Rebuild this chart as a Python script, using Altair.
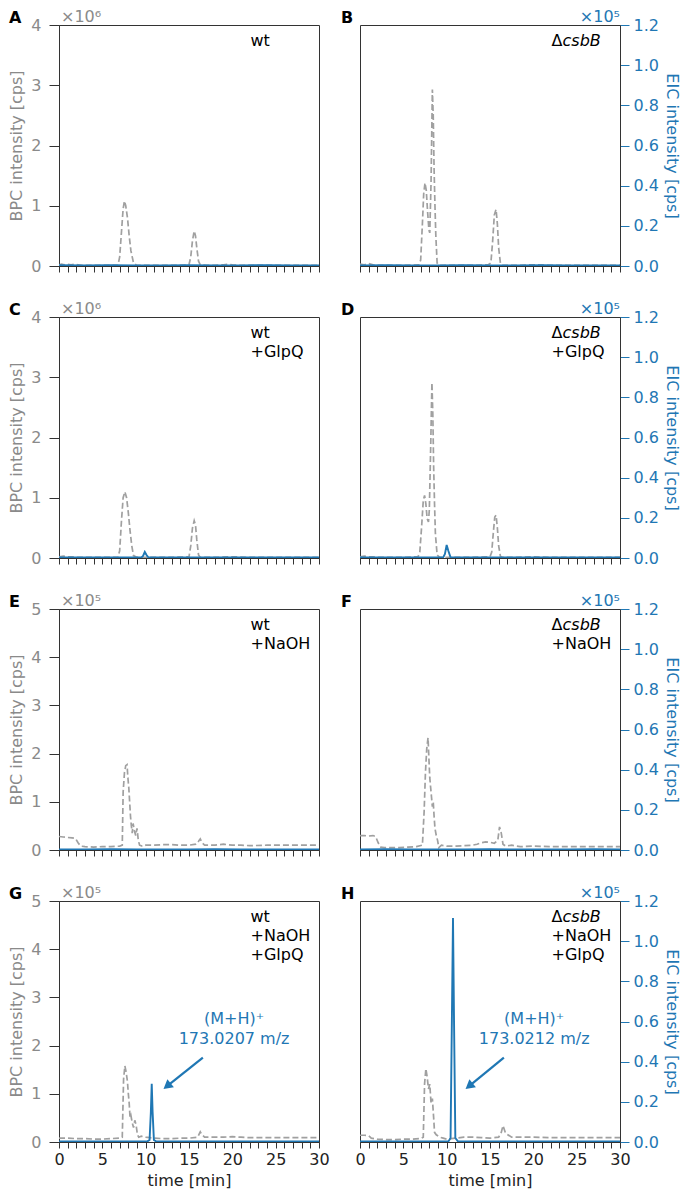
import altair as alt
import pandas as pd

# ---------------- data ----------------
# BPC values in units of the axis multiplier (x10^6 rows 1-2, x10^5 rows 3-4)
# EIC values in units of x10^5
A_bpc_t = [0, 0.3, 0.6, 1.0, 1.4, 1.8, 2.2, 2.6, 3.0, 4, 5, 6, 6.8, 7.0, 7.2, 7.4, 7.55, 7.7, 7.9, 8.1, 8.3, 8.6, 9.0, 10, 11, 12, 13, 14, 15.0, 15.2, 15.4, 15.6, 15.75, 15.9, 16.1, 16.3, 17, 18, 19, 19.5, 20, 21, 22, 24, 26, 28, 30]
A_bpc_v = [0.02, 0.03, 0.02, 0.03, 0.02, 0.03, 0.02, 0.01, 0.01, 0.01, 0.01, 0.01, 0.01, 0.15, 0.55, 0.95, 1.08, 1.0, 0.8, 0.5, 0.25, 0.05, 0.01, 0.01, 0.01, 0.01, 0.01, 0.01, 0.02, 0.15, 0.42, 0.58, 0.5, 0.3, 0.08, 0.02, 0.01, 0.01, 0.02, 0.03, 0.02, 0.01, 0.01, 0.01, 0.01, 0.01, 0.01]
A_eic_t = [0, 3, 6, 9, 12, 15, 18, 21, 24, 27, 30]
A_eic_v = [0.004, 0.003, 0.004, 0.003, 0.003, 0.004, 0.003, 0.003, 0.004, 0.003, 0.003]

B_bpc_t = [0, 0.5, 1.0, 1.5, 2.0, 3, 5, 6.8, 7.0, 7.2, 7.35, 7.5, 7.65, 7.8, 7.95, 8.05, 8.2, 8.35, 8.45, 8.55, 8.65, 8.75, 8.9, 9.2, 11, 13, 14.8, 15.1, 15.3, 15.5, 15.7, 15.85, 16.0, 16.2, 16.4, 18, 20, 22, 25, 28, 30]
B_bpc_v = [0.03, 0.02, 0.04, 0.02, 0.01, 0.01, 0.01, 0.02, 0.1, 0.7, 1.2, 1.38, 1.25, 0.9, 0.6, 0.55, 1.4, 2.93, 2.5, 1.6, 1.0, 0.5, 0.05, 0.01, 0.01, 0.01, 0.02, 0.05, 0.4, 0.85, 0.94, 0.7, 0.3, 0.05, 0.01, 0.01, 0.02, 0.01, 0.01, 0.01, 0.01]
B_eic_t = [0, 3, 6, 9, 12, 15, 18, 21, 24, 27, 30]
B_eic_v = [0.003, 0.004, 0.003, 0.003, 0.004, 0.003, 0.003, 0.004, 0.003, 0.003, 0.003]

C_bpc_t = [0, 0.5, 1, 1.5, 2, 3, 5, 6.8, 7.0, 7.2, 7.4, 7.6, 7.8, 8.0, 8.2, 8.4, 8.6, 9, 11, 13, 15.0, 15.2, 15.4, 15.6, 15.75, 15.9, 16.1, 16.3, 18, 20, 22, 25, 28, 30]
C_bpc_v = [0.02, 0.03, 0.02, 0.02, 0.01, 0.01, 0.01, 0.01, 0.12, 0.6, 1.0, 1.1, 1.0, 0.75, 0.45, 0.2, 0.04, 0.01, 0.01, 0.01, 0.02, 0.2, 0.5, 0.62, 0.55, 0.3, 0.05, 0.01, 0.01, 0.02, 0.01, 0.01, 0.01, 0.01]
C_eic_t = [0, 5, 9.5, 9.7, 9.9, 10.1, 10.3, 12, 20, 30]
C_eic_v = [0.003, 0.003, 0.003, 0.01, 0.03, 0.015, 0.003, 0.003, 0.003, 0.003]

D_bpc_t = [0, 0.5, 1.0, 1.5, 2, 3, 5, 6.7, 6.9, 7.1, 7.3, 7.45, 7.6, 7.75, 7.9, 8.0, 8.15, 8.3, 8.4, 8.5, 8.6, 8.7, 8.9, 9.2, 11, 13, 15.0, 15.2, 15.4, 15.55, 15.7, 15.85, 16.0, 16.2, 16.4, 18, 20, 22, 25, 28, 30]
D_bpc_v = [0.02, 0.03, 0.02, 0.02, 0.01, 0.01, 0.01, 0.02, 0.1, 0.5, 0.95, 1.04, 0.9, 0.65, 0.6, 0.8, 1.8, 2.91, 2.4, 1.5, 0.9, 0.4, 0.05, 0.01, 0.01, 0.01, 0.02, 0.1, 0.45, 0.68, 0.71, 0.5, 0.2, 0.03, 0.01, 0.01, 0.02, 0.01, 0.01, 0.01, 0.01]
D_eic_t = [0, 5, 9.6, 9.8, 10.0, 10.2, 10.45, 12, 20, 30]
D_eic_v = [0.003, 0.003, 0.003, 0.02, 0.065, 0.035, 0.003, 0.003, 0.003, 0.003]

E_bpc_t = [0, 0.5, 1.0, 1.5, 1.9, 2.2, 2.5, 3, 4, 5, 6, 7, 7.3, 7.4, 7.55, 7.7, 7.85, 7.95, 8.05, 8.15, 8.25, 8.35, 8.45, 8.55, 8.7, 8.85, 9.0, 9.15, 9.3, 9.6, 10, 11, 12, 13, 14, 15, 15.8, 16.1, 16.3, 16.5, 16.8, 17.5, 18, 19, 20, 21, 22, 24, 26, 28, 30]
E_bpc_v = [0.28, 0.27, 0.26, 0.25, 0.24, 0.15, 0.08, 0.07, 0.06, 0.07, 0.07, 0.08, 0.1, 1.2, 1.6, 1.75, 1.77, 1.5, 1.3, 1.0, 0.7, 0.5, 0.35, 0.55, 0.4, 0.3, 0.45, 0.2, 0.1, 0.08, 0.1, 0.1, 0.11, 0.11, 0.1, 0.1, 0.12, 0.18, 0.23, 0.15, 0.1, 0.1, 0.1, 0.12, 0.1, 0.1, 0.09, 0.1, 0.1, 0.1, 0.1]
E_eic_t = [0, 3, 6, 9, 12, 15, 18, 21, 24, 27, 30]
E_eic_v = [0.003, 0.003, 0.004, 0.003, 0.003, 0.003, 0.004, 0.003, 0.003, 0.003, 0.003]

F_bpc_t = [0, 0.5, 1.0, 1.5, 1.8, 2.1, 2.4, 2.8, 3.5, 4.5, 5.5, 6.5, 7.2, 7.4, 7.55, 7.7, 7.85, 7.95, 8.05, 8.15, 8.25, 8.35, 8.45, 8.55, 8.65, 8.8, 8.95, 9.1, 9.4, 10, 11, 12, 13, 13.5, 14, 14.5, 15, 15.5, 15.9, 16.1, 16.3, 16.5, 16.8, 17.5, 18.5, 20, 22, 24, 26, 28, 30]
F_bpc_v = [0.3, 0.3, 0.29, 0.3, 0.28, 0.15, 0.06, 0.05, 0.05, 0.05, 0.06, 0.07, 0.1, 0.8, 1.6, 2.1, 2.33, 1.9, 1.5, 1.3, 1.1, 0.9, 1.0, 0.7, 0.45, 0.3, 0.2, 0.05, 0.1, 0.08, 0.08, 0.09, 0.1, 0.12, 0.15, 0.17, 0.16, 0.14, 0.2, 0.48, 0.35, 0.12, 0.08, 0.1, 0.07, 0.08, 0.07, 0.07, 0.07, 0.07, 0.07]
F_eic_t = [0, 3, 6, 9, 12, 15, 18, 21, 24, 27, 30]
F_eic_v = [0.003, 0.004, 0.003, 0.003, 0.003, 0.004, 0.003, 0.003, 0.003, 0.004, 0.003]

G_bpc_t = [0, 1, 2, 3, 4, 5, 6, 7, 7.3, 7.45, 7.6, 7.75, 7.9, 8.0, 8.1, 8.2, 8.3, 8.45, 8.6, 8.75, 8.9, 9.05, 9.2, 9.5, 10, 11, 12, 13, 14, 15, 16, 16.3, 16.5, 16.8, 17.5, 18, 19, 20, 21, 22, 24, 26, 28, 30]
G_bpc_v = [0.08, 0.08, 0.07, 0.07, 0.06, 0.06, 0.07, 0.08, 0.1, 1.3, 1.58, 1.45, 1.25, 1.0, 0.8, 0.5, 0.55, 0.4, 0.3, 0.45, 0.35, 0.15, 0.1, 0.12, 0.1, 0.08, 0.07, 0.07, 0.08, 0.08, 0.1, 0.21, 0.15, 0.1, 0.1, 0.1, 0.1, 0.11, 0.1, 0.09, 0.09, 0.09, 0.09, 0.09]
G_eic_t = [0, 5, 10.2, 10.45, 10.6, 10.7, 10.8, 10.95, 11.2, 15, 20, 30]
G_eic_v = [0.003, 0.003, 0.003, 0.01, 0.15, 0.29, 0.15, 0.01, 0.003, 0.003, 0.003, 0.003]

H_bpc_t = [0, 0.5, 1.0, 1.3, 2, 3, 4, 5, 6, 7, 7.3, 7.45, 7.6, 7.75, 7.9, 8.05, 8.2, 8.35, 8.5, 8.6, 8.8, 9.2, 9.6, 10, 11, 12, 13, 14, 15, 16, 16.3, 16.5, 16.8, 17.5, 19, 20, 22, 24, 26, 28, 30]
H_bpc_v = [0.14, 0.14, 0.13, 0.08, 0.06, 0.05, 0.05, 0.06, 0.06, 0.07, 0.1, 1.2, 1.52, 1.35, 1.1, 1.2, 0.8, 0.9, 0.5, 0.2, 0.15, 0.1, 0.08, 0.06, 0.08, 0.1, 0.1, 0.09, 0.08, 0.1, 0.2, 0.34, 0.18, 0.1, 0.1, 0.1, 0.09, 0.09, 0.09, 0.09, 0.09]
H_eic_t = [0, 5, 10.2, 10.45, 10.6, 10.73, 10.85, 11.0, 11.3, 15, 20, 30]
H_eic_v = [0.003, 0.003, 0.003, 0.02, 0.6, 1.115, 0.6, 0.02, 0.003, 0.003, 0.003, 0.003]

X_TICKS = list(range(0, 31))
EIC_TICKS = [0, 0.2, 0.4, 0.6, 0.8, 1.0, 1.2]

ANN_TEXT_G = ["(M+H)\u207a", "173.0207 m/z"]
ANN_TEXT_H = ["(M+H)\u207a", "173.0212 m/z"]

# ---------------- style ----------------
GREY = "#a0a0a0"
BLUE = "#1f77b4"
AXGREY = "#8a8a8a"
DARK = "#333333"
FONT = "DejaVu Sans"
FS = 16

PW, PH = 260, 241


def make_x(bottom):
    if bottom:
        ax = alt.Axis(values=X_TICKS, tickSize=6, tickColor=DARK, domainColor=DARK, grid=False,
                      labelExpr="datum.value % 5 === 0 ? datum.label : ''",
                      labelFlush=False, labelOverlap=False,
                      labelFontSize=FS, labelColor="#222222", labelPadding=3,
                      title="time [min]", titleFontSize=FS, titleFontWeight="normal",
                      titleColor="#222222", titlePadding=5)
    else:
        ax = alt.Axis(values=X_TICKS, tickSize=6, tickColor=DARK, domainColor=DARK, grid=False,
                      labels=False, title=None)
    return alt.X("t:Q", scale=alt.Scale(domain=[0, 30], nice=False, zero=False), axis=ax)


def panel(letter, side, bpc_t, bpc_v, eic_t, eic_v, bpc_max, exp_txt, lines, delta, bottom, ann=None):
    x = make_x(bottom)
    bpc_df = pd.DataFrame({"t": bpc_t, "bpc": bpc_v})
    eic_df = pd.DataFrame({"t": eic_t, "eic": eic_v})

    if side == "left":
        bpc_axis = alt.Axis(orient="left", values=list(range(bpc_max + 1)), format="d", tickSize=10,
                            tickColor=DARK, domainColor=DARK, labelColor=AXGREY, labelFontSize=FS,
                            labelFlush=False, labelPadding=8, title="BPC intensity [cps]",
                            titleColor=AXGREY, titleFontSize=FS, titleFontWeight="normal",
                            titlePadding=6, grid=False)
        eic_axis = None
    else:
        bpc_axis = None
        eic_axis = alt.Axis(orient="right", values=EIC_TICKS, format=".1f", tickSize=9, tickColor=BLUE,
                            domainColor=DARK, labelColor=BLUE, labelFontSize=FS, labelPadding=4,
                            labelFlush=False, title="EIC intensity [cps]", titleColor=BLUE,
                            titleFontSize=FS, titleFontWeight="normal", titlePadding=5, grid=False)

    bpc = alt.Chart(bpc_df).mark_line(color=GREY, strokeWidth=1.7, strokeDash=[6, 3], clip=True).encode(
        x=x, y=alt.Y("bpc:Q", scale=alt.Scale(domain=[0, bpc_max], nice=False), axis=bpc_axis))
    eic = alt.Chart(eic_df).mark_line(color=BLUE, strokeWidth=1.9, clip=True).encode(
        x=x, y=alt.Y("eic:Q", scale=alt.Scale(domain=[0, 1.2], nice=False), axis=eic_axis))

    layers = [bpc, eic]

    # sample labels
    lab_t = 22.1
    for i, line in enumerate(lines):
        ypix = 21 + 19 * i
        if i == 0 and delta:
            d1 = alt.Chart(pd.DataFrame({"t": [lab_t], "txt": ["\u0394"]})).mark_text(
                align="left", baseline="alphabetic", fontSize=FS, color="black").encode(
                x=x, y=alt.value(ypix), text="txt:N")
            d2 = alt.Chart(pd.DataFrame({"t": [lab_t], "txt": [line]})).mark_text(
                align="left", baseline="alphabetic", fontSize=FS, fontStyle="italic", color="black",
                dx=11).encode(x=x, y=alt.value(ypix), text="txt:N")
            layers += [d1, d2]
        else:
            layers.append(alt.Chart(pd.DataFrame({"t": [lab_t], "txt": [line]})).mark_text(
                align="left", baseline="alphabetic", fontSize=FS, color="black").encode(
                x=x, y=alt.value(ypix), text="txt:N"))

    # panel letter
    layers.append(alt.Chart(pd.DataFrame({"txt": [letter]})).mark_text(
        align="left", baseline="top", fontSize=16, fontWeight="bold", color="black").encode(
        x=alt.value(-50 if side == "left" else -19), y=alt.value(-15), text="txt:N"))
    # multiplier
    layers.append(alt.Chart(pd.DataFrame({"txt": [exp_txt]})).mark_text(
        align="left" if side == "left" else "right", baseline="alphabetic", fontSize=FS,
        color=AXGREY if side == "left" else BLUE).encode(
        x=alt.value(2 if side == "left" else PW), y=alt.value(-3), text="txt:N"))

    if ann is not None:
        tail_t, tail_v, head_t, head_v, txt_t, txt_lines = ann
        ys = alt.Scale(domain=[0, 5], nice=False)
        arrow = alt.Chart(pd.DataFrame({"t": [tail_t], "ay": [tail_v], "t2": [head_t], "ay2": [head_v]})).mark_rule(
            color=BLUE, strokeWidth=2.2).encode(
            x=x, y=alt.Y("ay:Q", scale=ys, axis=None), x2="t2:Q", y2="ay2:Q")
        head = alt.Chart(pd.DataFrame({"t": [head_t], "ay": [head_v]})).mark_point(
            shape="triangle-up", filled=True, size=110, angle=231.5, color=BLUE, opacity=1).encode(
            x=x, y=alt.Y("ay:Q", scale=ys, axis=None))
        t1 = alt.Chart(pd.DataFrame({"t": [txt_t], "ay": [2.55], "txt": [txt_lines[0]]})).mark_text(
            align="center", baseline="middle", fontSize=FS, color=BLUE).encode(
            x=x, y=alt.Y("ay:Q", scale=ys, axis=None), text="txt:N")
        t2 = alt.Chart(pd.DataFrame({"t": [txt_t], "ay": [2.13], "txt": [txt_lines[1]]})).mark_text(
            align="center", baseline="middle", fontSize=FS, color=BLUE).encode(
            x=x, y=alt.Y("ay:Q", scale=ys, axis=None), text="txt:N")
        layers += [arrow, head, t1, t2]

    return alt.layer(*layers).resolve_scale(y="independent").properties(width=PW, height=PH)


pA = panel("A", "left", A_bpc_t, A_bpc_v, A_eic_t, A_eic_v, 4, "\u00d710\u2076", ["wt"], False, False)
pB = panel("B", "right", B_bpc_t, B_bpc_v, B_eic_t, B_eic_v, 4, "\u00d710\u2075", ["csbB"], True, False)
pC = panel("C", "left", C_bpc_t, C_bpc_v, C_eic_t, C_eic_v, 4, "\u00d710\u2076", ["wt", "+GlpQ"], False, False)
pD = panel("D", "right", D_bpc_t, D_bpc_v, D_eic_t, D_eic_v, 4, "\u00d710\u2075", ["csbB", "+GlpQ"], True, False)
pE = panel("E", "left", E_bpc_t, E_bpc_v, E_eic_t, E_eic_v, 5, "\u00d710\u2075", ["wt", "+NaOH"], False, False)
pF = panel("F", "right", F_bpc_t, F_bpc_v, F_eic_t, F_eic_v, 5, "\u00d710\u2075", ["csbB", "+NaOH"], True, False)
pG = panel("G", "left", G_bpc_t, G_bpc_v, G_eic_t, G_eic_v, 5, "\u00d710\u2075", ["wt", "+NaOH", "+GlpQ"], False, True,
           ann=(16.6, 1.75, 12.47, 1.16, 20.2, ANN_TEXT_G))
pH = panel("H", "right", H_bpc_t, H_bpc_v, H_eic_t, H_eic_v, 5, "\u00d710\u2075", ["csbB", "+NaOH", "+GlpQ"], True, True,
           ann=(16.6, 1.75, 12.59, 1.16, 20.1, ANN_TEXT_H))

chart = alt.concat(
    pA, pB, pC, pD, pE, pF, pG, pH,
    columns=2,
    spacing=alt.RowColnumber(row=51, column=41),
    bounds="flush",
).resolve_scale(x="independent", y="independent").properties(
    padding={"left": 0, "top": 0, "right": 4, "bottom": 2}
).configure(font=FONT).configure_view(stroke=DARK, strokeWidth=1)

chart.save("out.html", embed_options={"renderer": "svg", "actions": False})
